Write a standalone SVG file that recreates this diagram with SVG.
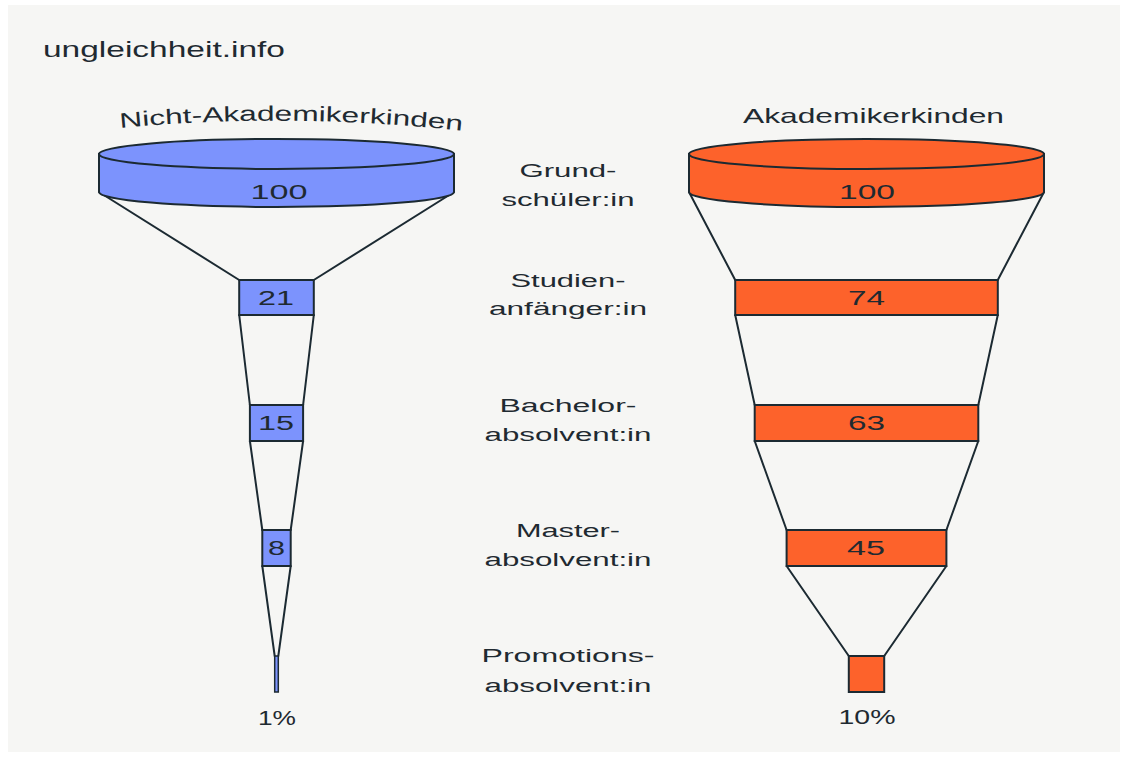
<svg xmlns="http://www.w3.org/2000/svg" xmlns:xlink="http://www.w3.org/1999/xlink" width="1128" height="758" viewBox="0 0 1128 758">
<style>
.t{font-family:"Liberation Sans",Arial,sans-serif;fill:#1f2a31;}
.lbl{font-size:18px;text-anchor:middle;}
.num{font-size:20px;text-anchor:middle;}
.blue{fill:#7c93fd;stroke:#1c2a32;stroke-width:2;}
.orange{fill:#fd622b;stroke:#1c2a32;stroke-width:2;}
.ln{stroke:#1c2a32;stroke-width:2;fill:none;stroke-linecap:round;}
</style>
<defs>
<path id="arcL" d="M120,128 Q290,112 464,131"/>
</defs>
<rect x="0" y="0" width="1128" height="758" fill="#ffffff"/>
<rect x="8" y="5" width="1112" height="747" fill="#f6f6f4"/>
<text class="t" x="43" y="57" font-size="22" textLength="242" lengthAdjust="spacingAndGlyphs">ungleichheit.info</text>
<text class="t" font-size="21"><textPath xlink:href="#arcL" textLength="343" lengthAdjust="spacingAndGlyphs">Nicht-Akademikerkinden</textPath></text>
<text class="t" x="743" y="123" font-size="21" textLength="261" lengthAdjust="spacingAndGlyphs">Akademikerkinden</text>

<g id="connectors">
<line class="ln" x1="99" y1="192" x2="239.2" y2="280"/>
<line class="ln" x1="454" y1="192" x2="313.8" y2="280"/>
<line class="ln" x1="239.2" y1="315" x2="249.9" y2="405"/>
<line class="ln" x1="313.8" y1="315" x2="303.1" y2="405"/>
<line class="ln" x1="249.9" y1="441" x2="262.3" y2="530"/>
<line class="ln" x1="303.1" y1="441" x2="290.7" y2="530"/>
<line class="ln" x1="262.3" y1="566" x2="274.7" y2="656"/>
<line class="ln" x1="290.7" y1="566" x2="278.3" y2="656"/>
<line class="ln" x1="689" y1="192" x2="735.2" y2="280"/>
<line class="ln" x1="1044" y1="192" x2="997.8" y2="280"/>
<line class="ln" x1="735.2" y1="315" x2="754.7" y2="405"/>
<line class="ln" x1="997.8" y1="315" x2="978.3" y2="405"/>
<line class="ln" x1="754.7" y1="441" x2="786.6" y2="530"/>
<line class="ln" x1="978.3" y1="441" x2="946.4" y2="530"/>
<line class="ln" x1="786.6" y1="566" x2="848.8" y2="656"/>
<line class="ln" x1="946.4" y1="566" x2="884.2" y2="656"/>
</g>

<g id="left-100">
<path class="blue" d="M99,154 V192 A177.5,15 0 0 0 454,192 V154 Z"/>
<ellipse class="blue" cx="276.5" cy="154" rx="177.5" ry="15"/>
<text class="t num" x="279" y="199" textLength="57" lengthAdjust="spacingAndGlyphs">100</text>
</g>
<g id="left-21">
<rect class="blue" x="239.2" y="280" width="74.6" height="35"/>
<text class="t num" x="276" y="305" textLength="36" lengthAdjust="spacingAndGlyphs">21</text>
</g>
<g id="left-15">
<rect class="blue" x="249.9" y="405" width="53.2" height="36"/>
<text class="t num" x="276" y="430" textLength="36" lengthAdjust="spacingAndGlyphs">15</text>
</g>
<g id="left-8">
<rect class="blue" x="262.3" y="530" width="28.4" height="36"/>
<text class="t num" x="276.5" y="555" textLength="17" lengthAdjust="spacingAndGlyphs">8</text>
</g>
<g id="left-1">
<rect class="blue" x="274.7" y="656" width="3.6" height="36" style="stroke-width:1.5"/>
<text class="t num" x="277" y="725" textLength="38" lengthAdjust="spacingAndGlyphs">1%</text>
</g>

<g id="right-100">
<path class="orange" d="M689,154 V192 A177.5,15 0 0 0 1044,192 V154 Z"/>
<ellipse class="orange" cx="866.5" cy="154" rx="177.5" ry="15"/>
<text class="t num" x="867" y="199" textLength="56" lengthAdjust="spacingAndGlyphs">100</text>
</g>
<g id="right-74">
<rect class="orange" x="735.2" y="280" width="262.6" height="35"/>
<text class="t num" x="866.5" y="305" textLength="37" lengthAdjust="spacingAndGlyphs">74</text>
</g>
<g id="right-63">
<rect class="orange" x="754.7" y="405" width="223.6" height="36"/>
<text class="t num" x="866.5" y="430" textLength="37" lengthAdjust="spacingAndGlyphs">63</text>
</g>
<g id="right-45">
<rect class="orange" x="786.6" y="530" width="159.8" height="36"/>
<text class="t num" x="866" y="555" textLength="38" lengthAdjust="spacingAndGlyphs">45</text>
</g>
<g id="right-10">
<rect class="orange" x="848.8" y="656" width="35.4" height="36"/>
<text class="t num" x="867" y="724" textLength="57" lengthAdjust="spacingAndGlyphs">10%</text>
</g>

<g id="labels">
<text class="t lbl" x="568" y="177" textLength="97" lengthAdjust="spacingAndGlyphs">Grund-</text>
<text class="t lbl" x="568" y="206" textLength="133" lengthAdjust="spacingAndGlyphs">schüler:in</text>
<text class="t lbl" x="568" y="287" textLength="115" lengthAdjust="spacingAndGlyphs">Studien-</text>
<text class="t lbl" x="568" y="315" textLength="158" lengthAdjust="spacingAndGlyphs">anfänger:in</text>
<text class="t lbl" x="568" y="412" textLength="137" lengthAdjust="spacingAndGlyphs">Bachelor-</text>
<text class="t lbl" x="568" y="441" textLength="167" lengthAdjust="spacingAndGlyphs">absolvent:in</text>
<text class="t lbl" x="568" y="537" textLength="104" lengthAdjust="spacingAndGlyphs">Master-</text>
<text class="t lbl" x="568" y="566" textLength="167" lengthAdjust="spacingAndGlyphs">absolvent:in</text>
<text class="t lbl" x="568" y="662" textLength="173" lengthAdjust="spacingAndGlyphs">Promotions-</text>
<text class="t lbl" x="568" y="692" textLength="167" lengthAdjust="spacingAndGlyphs">absolvent:in</text>
</g>
</svg>
